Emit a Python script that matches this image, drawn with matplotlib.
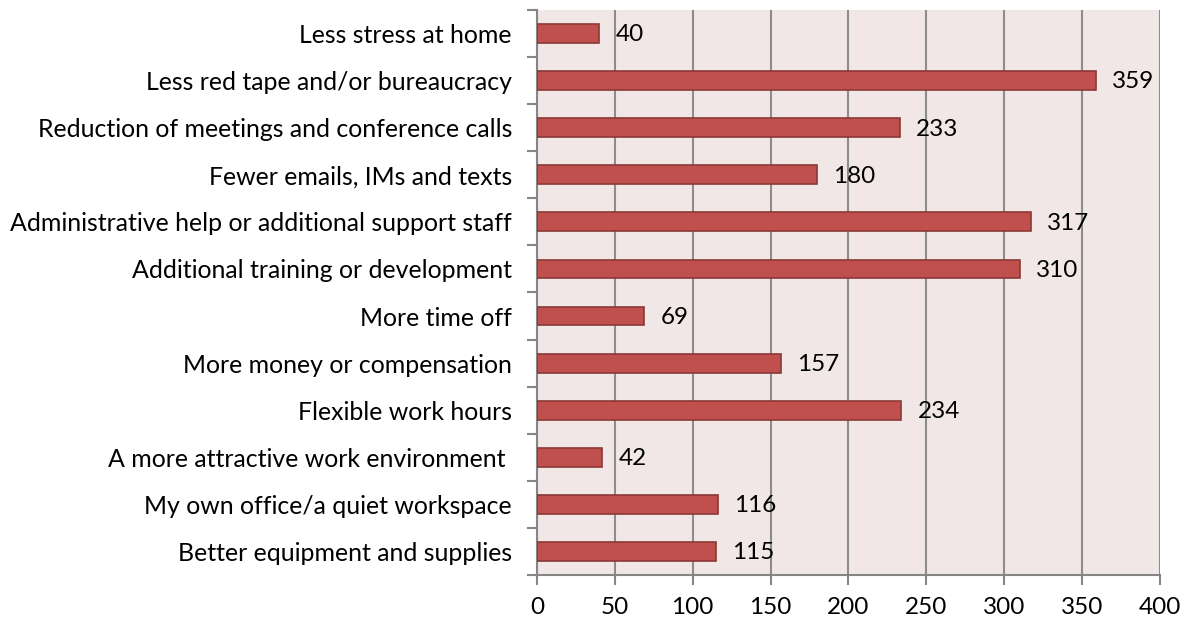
import matplotlib
matplotlib.use("Agg")
import matplotlib.pyplot as plt

categories = [
    "Better equipment and supplies",
    "My own office/a quiet workspace",
    "A more attractive work environment ",
    "Flexible work hours",
    "More money or compensation",
    "More time off",
    "Additional training or development",
    "Administrative help or additional support staff",
    "Fewer emails, IMs and texts",
    "Reduction of meetings and conference calls",
    "Less red tape and/or bureaucracy",
    "Less stress at home",
]
values = [115, 116, 42, 234, 157, 69, 310, 317, 180, 233, 359, 40]
xticks = [0, 50, 100, 150, 200, 250, 300, 350, 400]

plt.rcParams['font.family'] = ['Lato', 'DejaVu Sans']

fig = plt.figure(figsize=(11.88, 6.22), dpi=100)
ax = fig.add_axes([0.452, 0.0756, 0.5244, 0.9084])
ax.set_facecolor('#F2E7E7')

y = list(range(len(categories)))
ax.barh(y, values, height=0.4, color='#C0504D', edgecolor='#8C3836', linewidth=1.2, zorder=3)
for yi, v in zip(y, values):
    ax.annotate(str(v), (v, yi), xytext=(11.5, -1), textcoords='offset points',
                va='center', ha='left', fontsize=17.5, color='black', zorder=4)

ax.set_xlim(0, 400)
ax.set_ylim(-0.5, len(categories) - 0.5)
ax.set_xticks(xticks)
ax.set_xticklabels([str(t) for t in xticks], fontsize=17.5)
ax.set_yticks(y)
ax.set_yticklabels(categories, fontsize=17.9)
ax.tick_params(axis='y', length=0, pad=18)
ax.set_yticks([i - 0.5 for i in range(len(categories) + 1)], minor=True)
ax.tick_params(axis='y', which='minor', length=7, color='#868686', width=1.5)
ax.tick_params(axis='x', length=7, color='#868686', width=1.5, pad=9)
ax.xaxis.grid(True, color='#8C8C8C', linewidth=1.5, zorder=1)
for s in ['top', 'right']:
    ax.spines[s].set_visible(False)
for s in ['left', 'bottom']:
    ax.spines[s].set_color('#868686')
    ax.spines[s].set_linewidth(1.5)

fig.savefig('out.png', dpi=100)
